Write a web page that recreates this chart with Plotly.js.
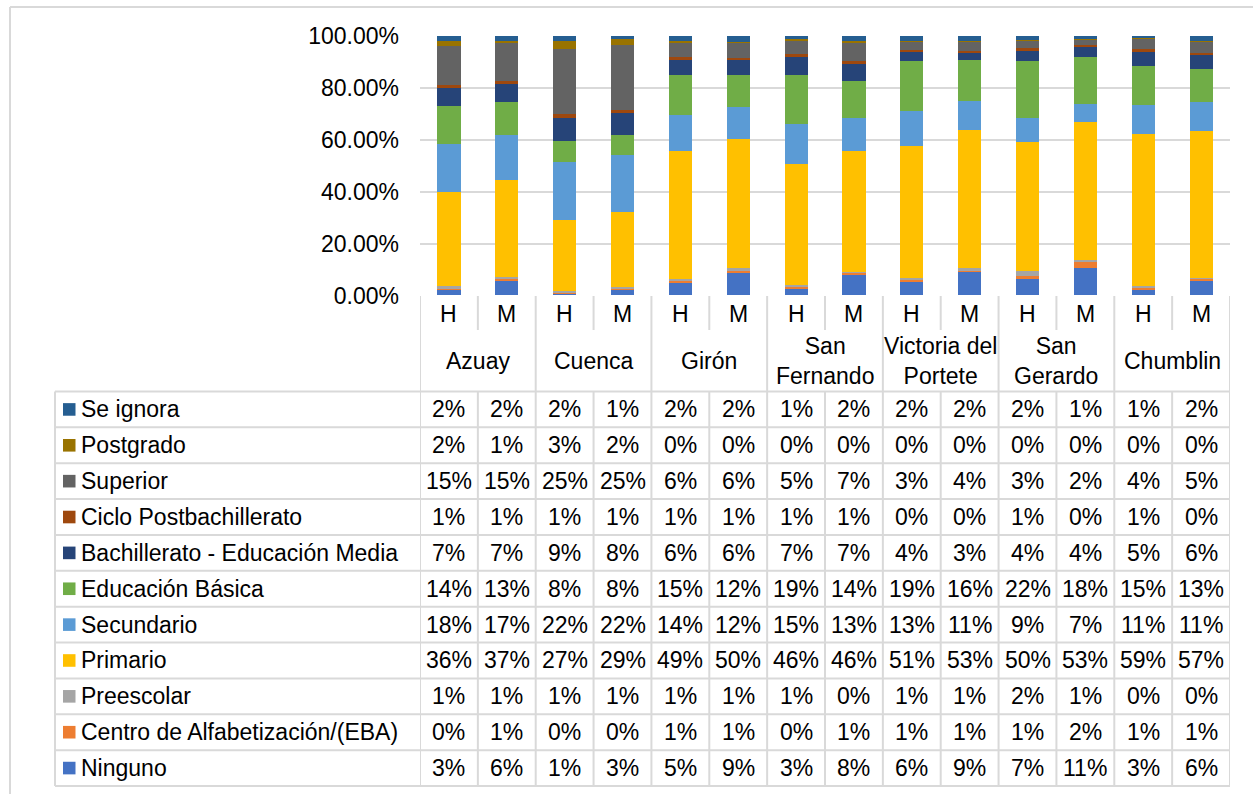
<!DOCTYPE html>
<html>
<head>
<meta charset="utf-8">
<script src="https://cdn.plot.ly/plotly-3.0.1.min.js"></script>
<style>html,body{margin:0;padding:0;background:#fff;}#chart{width:1253px;height:794px;}</style>
</head>
<body>
<div id="chart"></div>
<script>
// ---------- DATA ----------
const placeLabels = ['Azuay', 'Cuenca', 'Girón', 'San<br>Fernando', 'Victoria del<br>Portete', 'San<br>Gerardo', 'Chumblin'];
const sexes = ['H', 'M'];
const categories = ['Azuay H', 'Azuay M', 'Cuenca H', 'Cuenca M', 'Girón H', 'Girón M',
  'San Fernando H', 'San Fernando M', 'Victoria del Portete H', 'Victoria del Portete M',
  'San Gerardo H', 'San Gerardo M', 'Chumblin H', 'Chumblin M'];

// values in percent, stacking order bottom -> top
const ninguno    = [2.6, 5.6, 0.8, 2.5, 4.7, 8.6, 2.9, 7.8, 5.6, 9.1, 6.5, 10.7, 2.6, 5.6];
const centro     = [0.4, 0.8, 0.2, 0.3, 0.8, 0.8, 0.3, 1.0, 0.7, 0.8, 1.2, 2.1, 0.7, 0.9];
const preescolar = [0.6, 0.8, 0.8, 0.6, 0.8, 1.0, 0.9, 0.4, 0.6, 0.7, 1.7, 0.9, 0.3, 0.3];
const primario   = [36.4, 37.3, 27.4, 28.6, 49.3, 49.8, 46.4, 46.4, 50.7, 53.2, 49.7, 53.1, 58.6, 56.5];
const secundario = [18.4, 17.2, 22.0, 21.9, 14.0, 12.4, 15.4, 12.8, 13.4, 10.9, 9.4, 6.8, 11.1, 11.1];
const basica     = [14.4, 12.9, 8.4, 7.8, 15.3, 12.2, 19.1, 14.1, 19.4, 16.1, 21.6, 18.2, 15.2, 12.8];
const bachiller  = [7.2, 6.7, 8.7, 8.4, 5.9, 5.9, 6.9, 6.7, 3.7, 2.8, 4.1, 4.3, 5.1, 5.7];
const ciclo      = [1.1, 1.1, 1.4, 1.3, 0.9, 0.9, 0.9, 1.0, 0.3, 0.4, 1.0, 0.3, 1.1, 0.4];
const superior   = [15.1, 14.7, 25.2, 25.2, 5.8, 5.9, 5.4, 7.2, 3.3, 3.8, 2.9, 2.1, 4.3, 4.5];
const postgrado  = [1.7, 1.0, 3.2, 2.0, 0.3, 0.2, 0.4, 0.4, 0.3, 0.2, 0.3, 0.1, 0.2, 0.1];
const seIgnora   = [2.1, 1.9, 1.9, 1.4, 2.2, 2.3, 1.4, 2.2, 2.0, 2.0, 1.6, 1.4, 0.8, 2.1];

const seriesNames = ['Ninguno', 'Centro de Alfabetización/(EBA)', 'Preescolar', 'Primario', 'Secundario',
  'Educación Básica', 'Bachillerato - Educación Media', 'Ciclo Postbachillerato', 'Superior', 'Postgrado', 'Se ignora'];
const seriesValues = [ninguno, centro, preescolar, primario, secundario, basica, bachiller, ciclo, superior, postgrado, seIgnora];
const seriesColors = ['#4472C4', '#ED7D31', '#A5A5A5', '#FFC000', '#5B9BD5', '#70AD47', '#264478', '#9E480E', '#636363', '#997300', '#255E91'];
const yTicks = [0, 20, 40, 60, 80, 100];
const yTickText = ['0.00%', '20.00%', '40.00%', '60.00%', '80.00%', '100.00%'];

// ---------- LAYOUT HELPERS ----------
const W = 1253, H = 794;
const px = x => x / W;
const py = y => 1 - y / H;
const FONT = 'Liberation Sans, Arial, sans-serif';
const FS = 23;
const GRID = '#d9d9d9';
const plotLeft = 420, plotRight = 1230, plotTop = 35.7, plotBottom = 295.5;
const hmRowTop = 296, hmRowBottom = 330, placeRowBottom = 391.5, tableBottom = 786;
const nRows = seriesNames.length;
const rowH = (tableBottom - placeRowBottom) / nRows;
const tableLeft = 55;

const traces = seriesNames.map((name, s) => ({
  type: 'bar',
  name: name,
  x: categories,
  y: seriesValues[s],
  width: 0.4,
  marker: {color: seriesColors[s], line: {width: 0}},
  hovertemplate: '%{x}<br>' + name + ': %{y:.1f}%<extra></extra>'
}));

const shapes = [];
const annotations = [];
const line = (x0, y0, x1, y1, xref) => shapes.push({
  type: 'line', xref: xref, yref: 'paper', x0: x0, x1: x1, y0: y0, y1: y1,
  line: {color: GRID, width: 2}, layer: 'above'
});

// outer chart border (left and top)
shapes.push({type: 'line', xref: 'paper', yref: 'paper', x0: px(10), x1: px(10), y0: py(7), y1: 0, line: {color: GRID, width: 2}});
shapes.push({type: 'line', xref: 'paper', yref: 'paper', x0: px(10), x1: 1, y0: py(7), y1: py(7), line: {color: GRID, width: 2}});

// vertical lines of the table
for (let i = 0; i <= categories.length; i++) {
  const xv = i - 0.5;
  if (i % 2 === 0) {
    line(xv, py(hmRowTop), xv, py(tableBottom), 'x');
  } else {
    line(xv, py(hmRowTop), xv, py(hmRowBottom), 'x');
    line(xv, py(placeRowBottom), xv, py(tableBottom), 'x');
  }
}
line(px(tableLeft), py(placeRowBottom), px(tableLeft), py(tableBottom), 'paper');
// horizontal lines of the table
for (let r = 0; r <= nRows; r++) {
  const yy = placeRowBottom + r * rowH;
  line(px(tableLeft), py(yy), px(plotRight), py(yy), 'paper');
}

// H / M header and place names
categories.forEach((c, i) => {
  annotations.push({xref: 'x', yref: 'paper', x: i, y: py((hmRowTop + hmRowBottom) / 2 + 1),
    text: sexes[i % 2], showarrow: false, xanchor: 'center', yanchor: 'middle',
    font: {family: FONT, size: FS, color: '#000'}});
});
placeLabels.forEach((p, g) => {
  annotations.push({xref: 'x', yref: 'paper', x: 2 * g + 0.5, y: py((hmRowBottom + placeRowBottom) / 2),
    text: p, showarrow: false, xanchor: 'center', yanchor: 'middle',
    font: {family: FONT, size: FS, color: '#000'}});
});

// data table rows (top row = last series)
for (let r = 0; r < nRows; r++) {
  const s = nRows - 1 - r;
  const yc = placeRowBottom + rowH * (r + 0.5);
  shapes.push({type: 'rect', xref: 'paper', yref: 'paper', x0: px(63), x1: px(75.5),
    y0: py(yc - 6.3), y1: py(yc + 6.3), fillcolor: seriesColors[s], line: {width: 0}});
  annotations.push({xref: 'paper', yref: 'paper', x: px(79), y: py(yc), text: seriesNames[s],
    showarrow: false, xanchor: 'left', yanchor: 'middle', font: {family: FONT, size: FS, color: '#000'}});
  seriesValues[s].forEach((v, i) => {
    annotations.push({xref: 'x', yref: 'paper', x: i, y: py(yc), text: Math.round(v) + '%',
      showarrow: false, xanchor: 'center', yanchor: 'middle', font: {family: FONT, size: FS, color: '#000'}});
  });
}

const layout = {
  width: W, height: H,
  margin: {l: 0, r: 0, t: 0, b: 0},
  paper_bgcolor: '#fff', plot_bgcolor: '#fff',
  barmode: 'stack',
  showlegend: false,
  font: {family: FONT, size: FS, color: '#000'},
  xaxis: {
    domain: [px(plotLeft), px(plotRight)],
    type: 'category', range: [-0.5, categories.length - 0.5],
    showticklabels: false, showgrid: false, zeroline: false, showline: false, ticks: ''
  },
  yaxis: {
    domain: [py(plotBottom), py(plotTop)],
    range: [0, 100], tickmode: 'array', tickvals: yTicks, ticktext: yTickText,
    showgrid: true, gridcolor: GRID, gridwidth: 2, zeroline: false, showline: false, ticks: '',
    ticklabelstandoff: 20,
    tickfont: {family: FONT, size: FS, color: '#000'}
  },
  shapes: shapes,
  annotations: annotations
};

Plotly.newPlot('chart', traces, layout, {displayModeBar: false, responsive: false});
</script>
</body>
</html>
